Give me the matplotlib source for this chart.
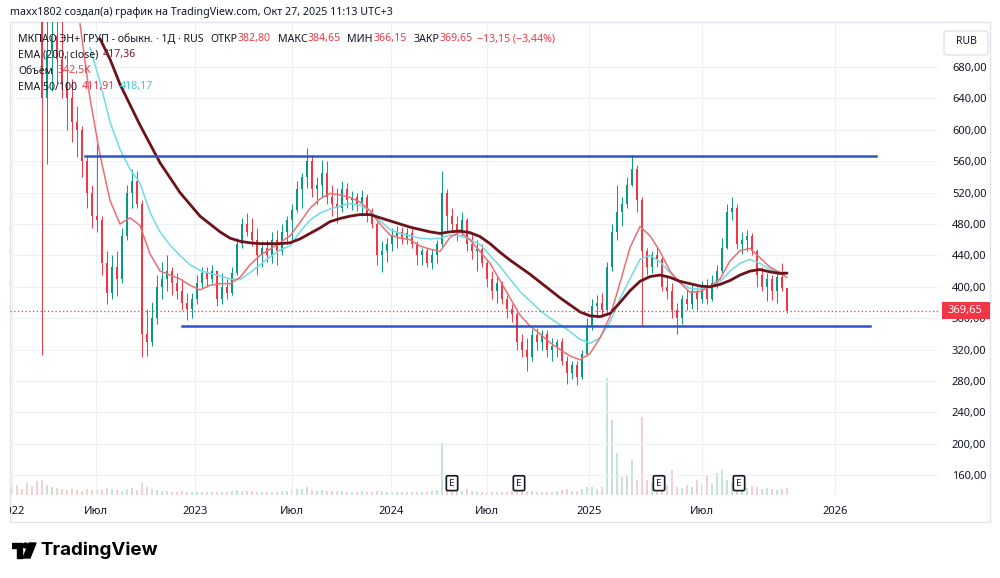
"""EN+ daily chart snapshot redrawn in the TradingView style."""

import matplotlib

matplotlib.use("Agg")

import matplotlib.pyplot as plt
import matplotlib.transforms as mtransforms
import numpy as np
from matplotlib.patches import Circle, FancyBboxPatch, Polygon, Rectangle

W, H = 1000, 578

# one candle per ~6 sessions, index 0 = 24.02.2022 (first 6 are above the view)
first_index = -6
opens = [
    1120, 1140, 1130, 1080, 1020, 990,
    930, 640, 700, 720, 690, 660, 640, 610, 600, 560,
    520, 490, 485, 430, 392, 425, 410, 465, 520, 535,
    505, 340, 330, 360, 400, 410, 420, 405, 395, 380,
    372, 385, 405, 418, 410, 420, 385, 400, 392, 418,
    455, 480, 470, 460, 440, 450, 440, 460, 445, 470,
    485, 498, 525, 540, 560, 525, 530, 545, 515, 505,
    500, 525, 510, 515, 505, 515, 490, 480, 440, 445,
    455, 465, 470, 462, 468, 455, 440, 445, 430, 440,
    455, 520, 490, 480, 470, 485, 455, 445, 448, 430,
    410, 395, 405, 385, 372, 365, 330, 320, 310, 338,
    330, 340, 320, 325, 330, 305, 290, 300, 285, 315,
    350, 375, 380, 370, 425, 470, 495, 505, 530, 550,
    510, 445, 425, 440, 435, 400, 395, 370, 360, 385,
    378, 395, 385, 400, 385, 405, 420, 450, 495, 500,
    455, 460, 465, 445, 415, 400, 410, 395, 412, 398,
]
highs = [
    1160, 1180, 1150, 1100, 1050, 1010,
    945, 745, 760, 770, 745, 700, 665, 630, 605, 565,
    530, 582, 490, 445, 441, 445, 475, 530, 550, 548,
    510, 372, 381, 415, 432, 440, 425, 418, 410, 392,
    392, 415, 425, 425, 428, 422, 418, 410, 425, 462,
    488, 494, 488, 475, 458, 460, 470, 472, 480, 490,
    505, 535, 545, 577, 568, 540, 561, 560, 530, 526,
    535, 532, 522, 520, 523, 518, 500, 482, 458, 462,
    475, 478, 476, 475, 476, 458, 450, 450, 448, 460,
    548, 525, 500, 490, 495, 488, 467, 460, 455, 435,
    420, 412, 408, 390, 378, 368, 340, 335, 346, 348,
    345, 345, 335, 333, 335, 312, 305, 305, 320, 360,
    385, 390, 392, 432, 480, 530, 515, 540, 568, 555,
    515, 450, 445, 452, 438, 412, 405, 380, 390, 397,
    402, 400, 408, 410, 415, 428, 462, 505, 514, 505,
    470, 472, 468, 448, 425, 418, 415, 420, 430, 398,
]
lows = [
    1090, 1110, 1060, 1000, 960, 900,
    313, 556, 650, 660, 640, 600, 585, 565, 540, 500,
    475, 470, 415, 378, 385, 388, 405, 460, 500, 500,
    310, 312, 325, 352, 385, 395, 390, 385, 370, 358,
    360, 378, 398, 400, 405, 375, 378, 385, 390, 415,
    450, 465, 452, 415, 425, 432, 430, 428, 440, 455,
    460, 495, 500, 526, 514, 506, 515, 505, 490, 481,
    495, 500, 498, 497, 490, 482, 475, 428, 419, 432,
    445, 450, 455, 455, 450, 428, 428, 425, 423, 430,
    450, 470, 472, 458, 465, 445, 436, 420, 425, 400,
    385, 380, 378, 360, 355, 320, 310, 293, 305, 320,
    320, 310, 305, 310, 300, 276, 282, 275, 283, 312,
    345, 362, 362, 365, 420, 460, 478, 500, 528, 495,
    350, 415, 418, 425, 395, 385, 360, 340, 352, 370,
    372, 370, 380, 378, 382, 398, 415, 448, 485, 448,
    442, 445, 440, 400, 395, 382, 383, 380, 395, 366.15,
]
closes = [
    1140, 1130, 1080, 1020, 990, 930,
    640, 700, 720, 690, 660, 640, 610, 600, 560, 520,
    490, 485, 430, 392, 425, 410, 465, 520, 535, 505,
    340, 330, 360, 400, 410, 420, 405, 395, 380, 372,
    385, 405, 418, 410, 420, 385, 400, 392, 418, 455,
    480, 470, 460, 440, 450, 440, 460, 445, 470, 485,
    498, 525, 540, 560, 525, 530, 545, 515, 505, 500,
    525, 510, 515, 505, 515, 490, 480, 440, 445, 455,
    465, 470, 462, 468, 455, 440, 445, 430, 440, 455,
    520, 490, 480, 470, 485, 455, 445, 448, 430, 410,
    395, 405, 385, 372, 365, 330, 320, 310, 338, 330,
    340, 320, 325, 330, 305, 290, 300, 285, 315, 350,
    375, 380, 370, 425, 470, 495, 505, 530, 550, 510,
    445, 425, 440, 435, 400, 395, 370, 360, 385, 378,
    395, 385, 400, 385, 405, 420, 450, 495, 500, 455,
    460, 465, 445, 415, 400, 410, 395, 412, 398, 369.65,
]
# volume, x100K shares
volumes = [
    8, 10, 6, 12, 9, 14,
    15, 10, 8, 7, 6, 5, 6, 5, 4, 6, 5,
    6, 5, 7, 6, 5, 4, 6, 7, 5, 12,
    8, 6, 5, 4, 4, 3, 3, 4, 3, 3,
    3, 3, 3, 3, 3, 3, 3, 4, 5, 4,
    4, 4, 3, 3, 3, 3, 3, 4, 4, 5,
    6, 6, 8, 5, 4, 5, 4, 4, 4, 4,
    3, 3, 3, 4, 3, 3, 4, 4, 3, 3,
    3, 3, 3, 3, 3, 3, 3, 4, 5, 52,
    14, 8, 5, 4, 6, 4, 3, 3, 3, 3,
    3, 3, 3, 4, 6, 5, 4, 4, 3, 3,
    3, 3, 4, 5, 6, 4, 4, 6, 8, 8,
    6, 8, 117, 75, 42, 18, 20, 35, 15, 78,
    15, 12, 10, 8, 10, 25, 8, 7, 10, 8,
    15, 10, 20, 12, 22, 25, 15, 12, 10, 8,
    7, 9, 8, 6, 7, 6, 5, 6, 7,
]

# moving averages, read every 2 candles
ema_200_start = 11.6
ema_200 = [
    716, 690, 658, 632, 606, 582, 558, 539, 520, 505,
    490, 480, 470, 462, 458, 456, 455, 455, 455, 456,
    461, 468, 475, 483, 487, 490, 492, 492, 488, 484,
    480, 476, 473, 470, 468, 470, 471, 469, 464, 455,
    444, 434, 425, 416, 406, 396, 386, 377, 368, 363,
    362, 366, 380, 395, 407, 413, 415, 412, 407, 404,
    401, 400, 403, 408, 415, 420, 422, 419, 417, 417.36,
]
ema_50_start = 7.6
ema_50 = [
    735, 640, 568, 510, 480, 488, 478, 442, 420, 415,
    410, 402, 396, 402, 404, 404, 412, 428, 440, 448,
    456, 465, 482, 500, 512, 519, 517, 514, 508, 497,
    480, 466, 462, 460, 452, 448, 445, 463, 470, 460,
    445, 430, 408, 386, 364, 350, 340, 329, 320, 312,
    307, 315, 335, 362, 405, 450, 477, 465, 445, 420,
    405, 393, 394, 400, 410, 433, 446, 449, 437, 425,
    418, 411.91,
]
ema_100_start = 9.6
ema_100 = [
    705, 661, 610, 575, 550, 532, 495, 470, 453, 440,
    428, 421, 417, 414, 410, 409, 418, 428, 438, 447,
    452, 470, 485, 494, 499, 503, 506, 504, 497, 484,
    473, 468, 465, 462, 461, 462, 466, 465, 460, 454,
    440, 426, 410, 394, 382, 370, 360, 352, 343, 333,
    328, 335, 355, 385, 410, 435, 440, 432, 418, 405,
    398, 397, 400, 407, 420, 430, 435, 430, 422, 419,
    418.17,
]

time_ticks = [-6, 10.8, 30.6, 50, 69.8, 89, 109.4, 132, 158.6]
time_labels = ["2022", "Июл", "2023", "Июл", "2024", "Июл", "2025", "Июл", "2026"]
price_ticks = list(range(160, 681, 40))

level_prices = [567, 350]
level_starts = [8.6, 28]
level_ends = [166.8, 165.6]
earnings_idx = [82, 95.4, 123.4, 139.4]
last_close = 369.65

UP = "#089981"
DOWN = "#F23645"
TEXT = "#131722"


def fx(px):
    return px / W


def fy(py):
    return 1 - py / H


def rub(value):
    return f"{value:.2f}".replace(".", ",")


def put_runs(fig, x_px, y_px, runs, size=7.6):
    """Write coloured text pieces one after the other on a line."""
    renderer = fig.canvas.get_renderer()
    for text, color, gap in runs:
        t = fig.text(fx(x_px), fy(y_px), text, color=color, fontsize=size,
                     ha="left", va="center")
        x_px += t.get_window_extent(renderer).width + gap


plt.rcParams["font.family"] = ["Noto Sans", "DejaVu Sans"]

fig = plt.figure(figsize=(W / 100, H / 100), dpi=100)
fig.patch.set_facecolor("white")

pane = [fx(10), fy(495), (938 - 10) / W, (495 - 22) / H]
axv = fig.add_axes(pane)
ax = fig.add_axes(pane)
ax.set_zorder(axv.get_zorder() + 1)
ax.patch.set_visible(False)

o = np.array(opens, dtype=float)
hi = np.array(highs, dtype=float)
lo = np.array(lows, dtype=float)
c = np.array(closes, dtype=float)
x = np.arange(len(c)) + first_index
up = c >= o
colors = np.where(up, UP, DOWN)

# volume
vol_colors = np.where(up, "#c6e2d9", "#f0d0d2")
axv.bar(x, volumes, width=0.4, color=vol_colors, linewidth=0)
axv.set_ylim(0, max(volumes) / 0.247)
axv.set_xlim(-6.4, 179.2)
axv.axis("off")

# candles
ax.vlines(x, lo, hi, colors=colors, linewidth=0.7)
ax.bar(x, np.maximum(np.abs(c - o), 1.5), bottom=np.minimum(o, c), width=0.45,
       color=colors, linewidth=0)

# moving averages
for values, start, color, lw in [
    (ema_100, ema_100_start, "#6fdbe6", 1.1),
    (ema_50, ema_50_start, "#ee6d72", 1.1),
    (ema_200, ema_200_start, "#6e1219", 2.0),
]:
    xs = np.minimum(start + 2 * np.arange(len(values)), x[-1])
    ax.plot(xs, values, color=color, linewidth=lw, solid_capstyle="round")

# drawn levels
for level, x0, x1 in zip(level_prices, level_starts, level_ends):
    ax.plot([x0, x1], [level, level], color="#2d55c8", linewidth=1.8)

ax.axhline(last_close, color=DOWN, linewidth=0.9, linestyle=(0, (1, 2)))

# earnings marks
marks = mtransforms.blended_transform_factory(ax.transData, ax.transAxes)
for xe in earnings_idx:
    ax.text(xe, 0.025, "E", transform=marks, ha="center", va="center",
            fontsize=7, color=TEXT,
            bbox=dict(boxstyle="round,pad=0.3,rounding_size=0.15", fc="white",
                      ec=TEXT, lw=1.2))

ax.set_xlim(-6.4, 179.2)
ax.set_ylim(134.8, 737.3)
ax.set_xticks(time_ticks)
ax.set_xticklabels(time_labels)
ax.set_yticks(price_ticks)
ax.set_yticklabels([rub(v) for v in price_ticks])
ax.yaxis.tick_right()
ax.tick_params(axis="y", length=0, pad=10, labelsize=8, labelcolor=TEXT)
ax.tick_params(axis="x", length=0, pad=8, labelsize=8, labelcolor=TEXT)
ax.grid(True, color="#edf0f5", linewidth=0.8)
ax.set_axisbelow(True)
for spine in ax.spines.values():
    spine.set_visible(False)

clip = mtransforms.TransformedBbox(
    mtransforms.Bbox.from_extents(fx(10), 0, 1, 1), fig.transFigure)
for label in ax.get_xticklabels():
    label.set_clip_on(True)
    label.set_clip_box(clip)

# chart frame
fig.add_artist(Rectangle((fx(10), fy(522)), (990 - 10) / W, (522 - 22) / H,
                         transform=fig.transFigure, fill=False,
                         edgecolor="#e0e3eb", linewidth=1))

# currency box and last price tag
fig.add_artist(FancyBboxPatch((fx(944), fy(55)), 44 / W, 24 / H,
                              boxstyle="round,pad=0,rounding_size=0.004",
                              transform=fig.transFigure, facecolor="white",
                              edgecolor="#e0e3eb", linewidth=1))
fig.text(fx(966), fy(42), "RUB", ha="center", va="center", fontsize=7.5,
         color=TEXT)
price_y = 67 + (680 - last_close) * 0.785
fig.add_artist(Rectangle((fx(942), fy(price_y + 8.5)), 48 / W, 17 / H,
                         transform=fig.transFigure, facecolor=DOWN,
                         edgecolor="none", zorder=5))
fig.text(fx(948), fy(price_y), rub(last_close), ha="left", va="center",
         fontsize=8, fontweight="bold", color="white", zorder=6)

# header and legend
fig.text(fx(10), fy(13), "maxx1802 создал(а) график на TradingView.com, "
         "Окт 27, 2025 11:13 UTC+3", ha="left", va="center", fontsize=7.7,
         color=TEXT)
put_runs(fig, 18, 39, [
    ("МКПАО ЭН+ ГРУП - обыкн. · 1Д · RUS", TEXT, 7),
    ("ОТКР", TEXT, 0), (rub(382.80), DOWN, 7),
    ("МАКС", TEXT, 0), (rub(384.65), DOWN, 7),
    ("МИН", TEXT, 0), (rub(366.15), DOWN, 7),
    ("ЗАКР", TEXT, 0), (rub(last_close), DOWN, 5),
    ("−13,15 (−3,44%)", DOWN, 0),
])
put_runs(fig, 18, 55, [("EMA (200, close)", TEXT, 4), ("417,36", "#7a1c24", 0)])
put_runs(fig, 18, 71, [("Объём", TEXT, 5), ("342,5K", DOWN, 0)])
put_runs(fig, 18, 87, [("EMA 50/100", TEXT, 5), ("411,91", DOWN, 4),
                       ("418,17", "#3cc8d8", 0)])

# TradingView logo
logo = fig.add_axes([fx(12), fy(560), 26 / W, 18 / H])
logo.set_xlim(12, 38)
logo.set_ylim(560, 542)
logo.axis("off")
logo.add_patch(Polygon([(12, 543), (22, 543), (22, 558), (17, 558), (17, 548),
                        (12, 548)], closed=True, color="black"))
logo.add_patch(Circle((25.5, 545.5), 2.4, color="black"))
logo.add_patch(Polygon([(29, 543), (36, 543), (30, 558), (23, 558)],
                       closed=True, color="black"))
fig.text(fx(40), fy(550), "TradingView", ha="left", va="center", fontsize=13.5,
         fontweight="bold", color="black", family=["Inter", "DejaVu Sans"])

fig.savefig("out.png", dpi=100, facecolor="white")
plt.close(fig)
